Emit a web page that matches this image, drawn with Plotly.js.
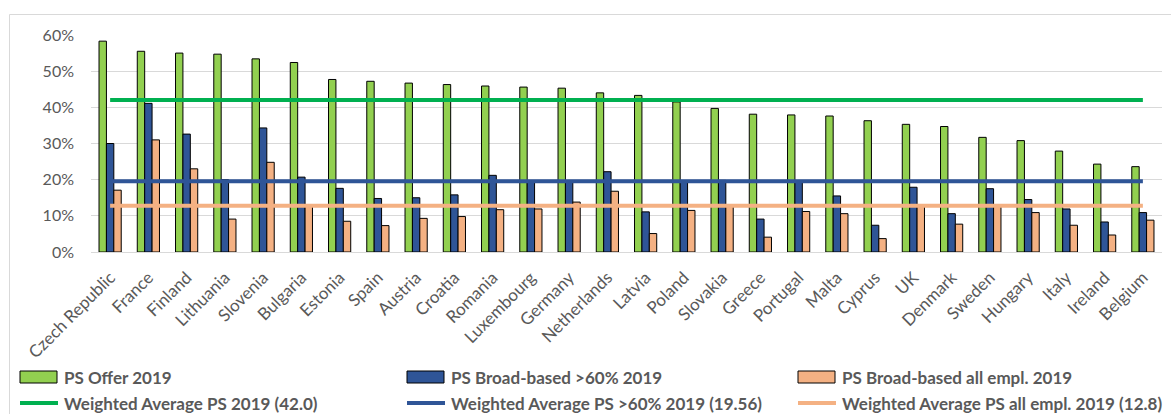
<!DOCTYPE html>
<html>
<head>
<meta charset="utf-8">
<script src="https://cdn.plot.ly/plotly-3.0.1.min.js"></script>
<style>html,body{margin:0;padding:0;background:#fff;}#chart{width:1171px;height:414px;}</style>
</head>
<body>
<div id="chart"></div>
<script>
const countries = ["Czech Republic","France","Finland","Lithuania","Slovenia","Bulgaria","Estonia","Spain","Austria","Croatia","Romania","Luxembourg","Germany","Netherlands","Latvia","Poland","Slovakia","Greece","Portugal","Malta","Cyprus","UK","Denmark","Sweden","Hungary","Italy","Ireland","Belgium"];
const psOffer = [58.3,55.5,55.0,54.7,53.4,52.4,47.7,47.2,46.7,46.3,45.9,45.6,45.3,44.0,43.3,41.5,39.7,38.1,37.9,37.6,36.3,35.3,34.7,31.7,30.8,27.9,24.3,23.6];
const psBroad60 = [30.0,41.1,32.6,20.0,34.3,20.7,17.6,14.8,15.0,15.8,21.2,19.5,19.5,22.2,11.1,19.5,19.8,9.1,19.5,15.5,7.4,17.9,10.6,17.5,14.5,11.9,8.3,10.9];
const psBroadAll = [17.1,31.0,23.0,9.1,24.8,12.6,8.5,7.3,9.3,9.8,11.7,11.9,13.8,16.8,5.1,11.5,12.6,4.1,11.2,10.6,3.7,12.6,7.7,12.6,10.9,7.4,4.7,8.8];
const avgValues = [42.0, 19.56, 12.8];
const barNames = ["PS Offer 2019","PS Broad-based >60% 2019","PS Broad-based all empl. 2019"];
const lineNames = ["Weighted Average PS 2019 (42.0)","Weighted Average PS >60% 2019 (19.56)","Weighted Average PS all empl. 2019 (12.8)"];
const yTicks = [0,10,20,30,40,50,60];

const barColors = ["#92D050","#2F5597","#F4B183"];
const lineColors = ["#00B050","#2F5597","#F4B183"];

const W = 1171, H = 414, ML = 91, MR = 9, MT = 35, MB = 162;
const PW = W - ML - MR, PH = H - MT - MB;
const px2x = p => (p - ML) / PW;
const py2y = p => (H - MB - p) / PH;

const series = [psOffer, psBroad60, psBroadAll];
const traces = [];
series.forEach((vals, i) => {
  traces.push({
    type: 'bar', x: countries, y: vals, name: barNames[i],
    marker: {color: barColors[i], line: {color: '#000000', width: 1}},
    showlegend: false, hoverinfo: 'x+y'
  });
});
avgValues.forEach((v, i) => {
  traces.push({
    type: 'scatter', mode: 'lines', x: countries, y: countries.map(() => v),
    name: lineNames[i], line: {color: lineColors[i], width: 4},
    showlegend: false
  });
});

const font = 'Lato, "Open Sans", "DejaVu Sans", sans-serif';
const shapes = [{
  type: 'rect', xref: 'paper', yref: 'paper',
  x0: px2x(9.5), x1: px2x(1200), y0: py2y(440), y1: py2y(14.5),
  line: {color: '#d9d9d9', width: 1}, fillcolor: 'rgba(0,0,0,0)', layer: 'below'
}];
const annotations = [];
const colStarts = [20, 407, 798];
const row1 = 377, row2 = 403;
colStarts.forEach((cx, i) => {
  shapes.push({
    type: 'rect', xref: 'paper', yref: 'paper',
    x0: px2x(cx), x1: px2x(cx + 37), y0: py2y(row1 + 6), y1: py2y(row1 - 6),
    fillcolor: barColors[i], line: {color: '#000000', width: 1}
  });
  shapes.push({
    type: 'line', xref: 'paper', yref: 'paper',
    x0: px2x(cx), x1: px2x(cx + 38), y0: py2y(row2), y1: py2y(row2),
    line: {color: lineColors[i], width: 4}
  });
  annotations.push({
    xref: 'paper', yref: 'paper', x: px2x(cx + 42), y: py2y(row1),
    xanchor: 'left', yanchor: 'middle', showarrow: false, text: '<b>' + barNames[i] + '</b>',
    font: {family: font, size: 17, color: '#595959'}
  });
  annotations.push({
    xref: 'paper', yref: 'paper', x: px2x(cx + 42), y: py2y(row2),
    xanchor: 'left', yanchor: 'middle', showarrow: false, text: '<b>' + lineNames[i] + '</b>',
    font: {family: font, size: 17, color: '#595959'}
  });
});

const layout = {
  width: W, height: H,
  margin: {l: ML, r: MR, t: MT, b: MB, pad: 0},
  paper_bgcolor: '#ffffff', plot_bgcolor: '#ffffff',
  barmode: 'group', bargap: 0.42, bargroupgap: 0,
  showlegend: false,
  font: {family: font, color: '#595959', size: 16},
  xaxis: {
    type: 'category', tickangle: -45, showgrid: false,
    showline: true, linecolor: '#d9d9d9', linewidth: 1,
    ticks: '', ticklabelstandoff: 8,
    tickfont: {family: font, size: 17, color: '#595959'},
    automargin: false
  },
  yaxis: {
    range: [0, 60], tickvals: yTicks, ticktext: yTicks.map(t => t + '%'),
    showgrid: true, gridcolor: '#d9d9d9', gridwidth: 1, zeroline: false,
    showline: false, ticks: '', ticklabelstandoff: 16,
    tickfont: {family: font, size: 16, color: '#595959'},
    automargin: false
  },
  shapes: shapes, annotations: annotations
};

Plotly.newPlot('chart', traces, layout, {displayModeBar: false, staticPlot: true});
</script>
</body>
</html>
